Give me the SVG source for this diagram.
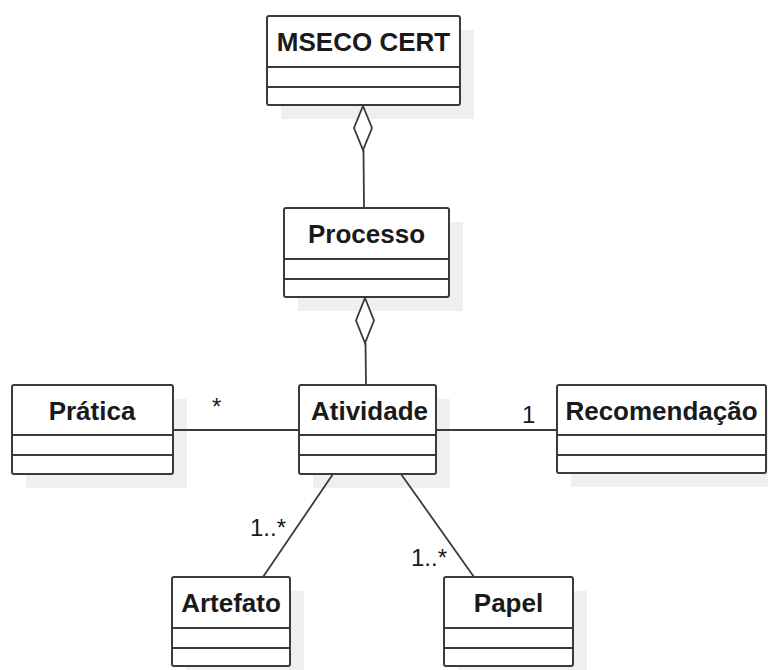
<svg xmlns="http://www.w3.org/2000/svg" width="768" height="670" viewBox="0 0 768 670">
  <defs>
    <style>
      .shadow { fill: #efefef; stroke: none; }
      .box { fill: #ffffff; stroke: #3a3a3a; stroke-width: 2; }
      .div { stroke: #3a3a3a; stroke-width: 2; }
      .name { font-family: "Liberation Sans", Arial, sans-serif; font-size: 26px; font-weight: bold; fill: #1a1a1a; text-anchor: middle; }
      .mult { font-family: "Liberation Sans", Arial, sans-serif; font-size: 24px; fill: #1a1a1a; }
      .link { fill: none; stroke: #3a3a3a; stroke-width: 1.8; }
      .agg { fill: #ffffff; stroke: #3a3a3a; stroke-width: 1.8; }
    </style>
  </defs>
  <rect width="768" height="670" fill="#ffffff"/>

  <!-- drop shadows -->
  <g id="shadows">
    <rect class="shadow" x="281" y="30" width="193" height="89"/>
    <rect class="shadow" x="298" y="222" width="165" height="89"/>
    <rect class="shadow" x="26" y="399" width="161" height="89"/>
    <rect class="shadow" x="313" y="399" width="137" height="89"/>
    <rect class="shadow" x="571" y="399" width="197" height="88"/>
    <rect class="shadow" x="186" y="591" width="118" height="79"/>
    <rect class="shadow" x="458" y="591" width="129" height="79"/>
  </g>

  <!-- connectors -->
  <g id="connectors">
    <line class="link" x1="363.5" y1="150" x2="364" y2="208"/>
    <polygon class="agg" points="363,106 372,128 363,150 354,128"/>
    <line class="link" x1="365.5" y1="343" x2="366" y2="385"/>
    <polygon class="agg" points="365,298 374,320.5 365,343 356,320.5"/>
    <line class="link" x1="173" y1="430" x2="299" y2="430"/>
    <line class="link" x1="436" y1="430" x2="557" y2="430"/>
    <line class="link" x1="333" y1="474" x2="263" y2="577"/>
    <line class="link" x1="401" y1="474" x2="474" y2="577"/>
    <text class="mult" x="212" y="415">*</text>
    <text class="mult" x="522" y="423">1</text>
    <text class="mult" x="250" y="536">1..*</text>
    <text class="mult" x="411" y="566">1..*</text>
  </g>

  <g id="mseco-cert">
    <rect class="box" x="267" y="16" width="193" height="89" rx="2"/>
    <line class="div" x1="267" y1="67" x2="460" y2="67"/>
    <line class="div" x1="267" y1="87" x2="460" y2="87"/>
    <text class="name" x="363.5" y="50.5">MSECO CERT</text>
  </g>

  <g id="processo">
    <rect class="box" x="284" y="208" width="165" height="89" rx="2"/>
    <line class="div" x1="284" y1="259" x2="449" y2="259"/>
    <line class="div" x1="284" y1="279" x2="449" y2="279"/>
    <text class="name" x="366.5" y="242.5">Processo</text>
  </g>

  <g id="pratica">
    <rect class="box" x="12" y="385" width="161" height="89" rx="2"/>
    <line class="div" x1="12" y1="435" x2="173" y2="435"/>
    <line class="div" x1="12" y1="455" x2="173" y2="455"/>
    <text class="name" x="92" y="420">Prática</text>
  </g>

  <g id="atividade">
    <rect class="box" x="299" y="385" width="137" height="89" rx="2"/>
    <line class="div" x1="299" y1="435" x2="436" y2="435"/>
    <line class="div" x1="299" y1="455" x2="436" y2="455"/>
    <text class="name" x="369.5" y="420">Atividade</text>
  </g>

  <g id="recomendacao">
    <rect class="box" x="557" y="385" width="209" height="88" rx="2"/>
    <line class="div" x1="557" y1="435" x2="766" y2="435"/>
    <line class="div" x1="557" y1="455" x2="766" y2="455"/>
    <text class="name" x="661.5" y="420">Recomendação</text>
  </g>

  <g id="artefato">
    <rect class="box" x="172" y="577" width="118" height="89" rx="2"/>
    <line class="div" x1="172" y1="628" x2="290" y2="628"/>
    <line class="div" x1="172" y1="648" x2="290" y2="648"/>
    <text class="name" x="231" y="612">Artefato</text>
  </g>

  <g id="papel">
    <rect class="box" x="444" y="577" width="129" height="89" rx="2"/>
    <line class="div" x1="444" y1="628" x2="573" y2="628"/>
    <line class="div" x1="444" y1="648" x2="573" y2="648"/>
    <text class="name" x="508.5" y="612">Papel</text>
  </g>
</svg>
